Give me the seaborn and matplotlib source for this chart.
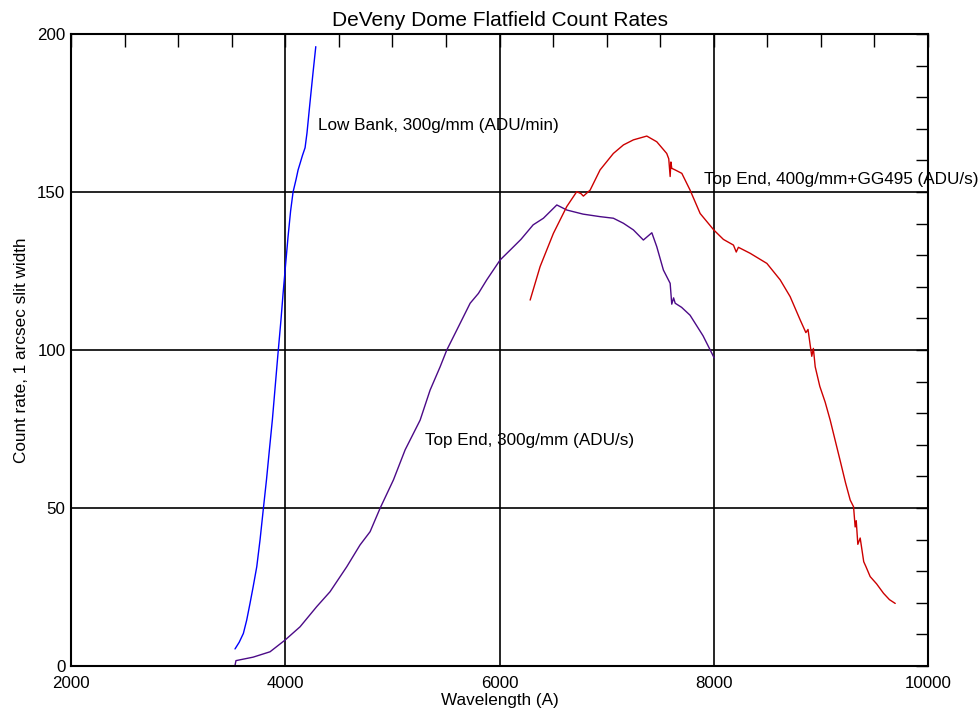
"""DeVeny dome flatfield count rates, IDL-style line plot."""
import matplotlib.pyplot as plt
import pandas as pd
import seaborn as sns
from matplotlib.ticker import MultipleLocator

sns.set_theme(style="white")
plt.rcParams["font.family"] = ["Liberation Sans", "DejaVu Sans"]
plt.rcParams["text.color"] = "black"
plt.rcParams["axes.labelcolor"] = "black"
plt.rcParams["xtick.color"] = "black"
plt.rcParams["ytick.color"] = "black"

# Low Bank, 300g/mm (ADU/min)
low_wave = [3531, 3570, 3609, 3640, 3671, 3700, 3734, 3765, 3796, 3825, 3852, 3880,
            3905, 3930, 3960, 3980, 3998, 4026, 4050, 4073, 4101, 4120, 4138, 4160,
            4185, 4203, 4230, 4260, 4285]
low_rate = [5.4, 7.5, 10.3, 14.5, 19.8, 25.0, 31.4, 40.0, 49.9, 59.0, 68.4, 78.0,
            88.0, 98.0, 109.5, 118.0, 125.0, 135.8, 144.0, 150.0, 154.0, 157.0, 159.0, 161.5,
            164.0, 168.7, 178.0, 188.0, 196.0]

# Top End, 300g/mm (ADU/s)
t300_wave = [3530, 3540, 3700, 3858, 3998, 4138, 4294, 4418, 4574, 4698, 4792, 4885,
             5010, 5119, 5259, 5352, 5446, 5508, 5601, 5726, 5803, 5881, 6006, 6099,
             6200, 6314, 6410, 6535, 6628, 6780, 6939, 7063, 7157, 7250, 7343, 7422,
             7468, 7530, 7593, 7608, 7625, 7640, 7700, 7779, 7900, 8004]
t300_rate = [0.0, 1.7, 2.8, 4.5, 8.2, 12.4, 18.8, 23.5, 31.4, 38.3, 42.5, 49.9,
             58.9, 68.4, 77.8, 87.3, 94.7, 100.0, 106.3, 114.8, 117.9, 122.2, 128.5, 131.6,
             135.0, 139.6, 141.7, 145.9, 144.3, 143.0, 142.2, 141.7, 140.1, 138.0, 134.8, 137.1,
             132.7, 125.3, 121.1, 114.5, 116.5, 114.8, 113.5, 111.0, 104.5, 97.5]

# Top End, 400g/mm+GG495 (ADU/s)
t400_wave = [6286, 6379, 6503, 6628, 6721, 6760, 6783, 6846, 6939, 7063, 7157, 7250,
             7375, 7468, 7561, 7580, 7593, 7600, 7608, 7639, 7702, 7779, 7873, 8000,
             8090, 8184, 8210, 8230, 8340, 8496, 8620, 8713, 8807, 8860, 8880, 8900,
             8915, 8930, 8947, 8990, 9040, 9087, 9140, 9180, 9230, 9274, 9305, 9320,
             9330, 9345, 9367, 9400, 9420, 9460, 9520, 9585, 9640, 9694]
t400_rate = [115.8, 126.4, 136.9, 145.4, 150.1, 149.5, 148.7, 150.6, 157.0, 162.2, 164.9, 166.5,
             167.7, 165.9, 162.2, 160.5, 154.9, 159.5, 157.5, 157.0, 155.9, 150.6, 143.2, 138.0,
             135.0, 133.2, 131.0, 132.5, 130.6, 127.4, 122.2, 116.9, 109.5, 105.5, 106.5, 101.6,
             98.0, 100.5, 94.7, 88.5, 83.5, 77.8, 70.5, 65.0, 58.0, 52.5, 50.4, 44.0,
             46.0, 38.5, 40.5, 33.0, 31.5, 28.3, 26.0, 23.0, 21.0, 19.8]

labels = [
    ("Low Bank, 300g/mm (ADU/min)", 4306, 171.2),
    ("Top End, 400g/mm+GG495 (ADU/s)", 7910, 153.8),
    ("Top End, 300g/mm (ADU/s)", 5305, 71.5),
]


def main():
    fig, ax = plt.subplots(figsize=(9.8, 7.11), dpi=100)
    fig.subplots_adjust(left=71 / 980, right=928 / 980, bottom=45 / 711, top=677 / 711)

    series = [
        (low_wave, low_rate, "#0000ff"),
        (t300_wave, t300_rate, "#4b0a87"),
        (t400_wave, t400_rate, "#cc0000"),
    ]
    for wave, rate, color in series:
        df = pd.DataFrame({"wave": wave, "rate": rate})
        sns.lineplot(data=df, x="wave", y="rate", sort=False, estimator=None,
                     color=color, lw=1.0, ax=ax)

    for text, x, y in labels:
        ax.text(x, y, text, fontsize=12.3, ha="left", va="center", clip_on=False)

    ax.set_xlim(2000, 10000)
    ax.set_ylim(0, 200)
    ax.xaxis.set_major_locator(MultipleLocator(2000))
    ax.xaxis.set_minor_locator(MultipleLocator(500))
    ax.yaxis.set_major_locator(MultipleLocator(50))
    ax.yaxis.set_minor_locator(MultipleLocator(10))
    ax.grid(True, which="major", color="black", lw=1.2)
    ax.tick_params(which="both", direction="in", top=True, right=True, length=9,
                   width=1.0, color="black", labelsize=12.2)
    ax.tick_params(axis="x", pad=7)
    ax.tick_params(axis="y", pad=4)
    for spine in ax.spines.values():
        spine.set_color("black")
        spine.set_linewidth(1.5)

    ax.set_title("DeVeny Dome Flatfield Count Rates", fontsize=15, pad=6)
    ax.set_xlabel("Wavelength (A)", fontsize=12.3, labelpad=2)
    ax.set_ylabel("Count rate, 1 arcsec slit width", fontsize=12.3, labelpad=6)

    fig.savefig("out.png", dpi=100)
    plt.close(fig)


if __name__ == "__main__":
    main()
